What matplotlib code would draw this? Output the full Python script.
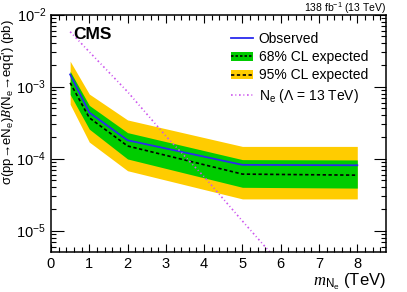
import numpy as np
import matplotlib
matplotlib.use("Agg")
import matplotlib.pyplot as plt
from matplotlib.patches import Patch
from matplotlib.lines import Line2D

plt.rcParams['font.family'] = ['Liberation Sans', 'DejaVu Sans']
plt.rcParams['mathtext.fontset'] = 'custom'
plt.rcParams['mathtext.rm'] = 'Liberation Sans'
plt.rcParams['mathtext.it'] = 'Liberation Serif:italic'
plt.rcParams['mathtext.cal'] = 'STIXGeneral:italic'

# limits vs mass
mass = [0.5, 1, 2, 5, 8]
observed = [1.48e-3, 4.37e-4, 1.80e-4, 8.2e-5, 8.1e-5]
expected = [1.13e-3, 3.7e-4, 1.5e-4, 6.1e-5, 5.9e-5]
exp68_up = [1.64e-3, 5.5e-4, 2.3e-4, 9.7e-5, 9.6e-5]
exp68_dn = [7.8e-4, 2.57e-4, 9.9e-5, 4.0e-5, 3.9e-5]
exp95_up = [2.26e-3, 7.9e-4, 3.45e-4, 1.48e-4, 1.48e-4]
exp95_dn = [5.7e-4, 1.7e-4, 6.8e-5, 2.76e-5, 2.76e-5]

# theory prediction
th_mass = [0.5, 1, 2, 3, 4, 5, 6]
th_xsec = [5.8e-3, 3.05e-3, 8.5e-4, 2.06e-4, 5.6e-5, 1.36e-5, 3.4e-6]

green = '#00cc00'
yellow = '#ffcc00'
blue = '#2a2aee'
violet = '#cc55ee'

fig = plt.figure(figsize=(4.07, 2.92), dpi=100)
ax = fig.add_axes([0.1253, 0.138, 0.8231, 0.8117])

ax.fill_between(mass, exp95_dn, exp95_up, color=yellow, lw=0)
ax.fill_between(mass, exp68_dn, exp68_up, color=green, lw=0)
ax.plot(mass, expected, color='black', lw=1.2, dashes=(2, 1.5))
ax.plot(mass, observed, color=blue, lw=1.3)
ax.plot(th_mass, th_xsec, color=violet, lw=1.2, dashes=(1.0, 1.6, 0.6, 1.6))

ax.set_yscale('log')
ax.set_xlim(0, 8.75)
ax.set_ylim(5.1e-6, 1e-2)
ax.set_xticks(range(0, 9))
ax.xaxis.set_minor_locator(matplotlib.ticker.MultipleLocator(0.2))
ax.tick_params(which='both', direction='in', top=True, right=True, labelsize=10.5, width=0.8)
ax.tick_params(which='major', axis='y', length=9)
ax.tick_params(which='major', axis='x', length=6)
ax.tick_params(which='minor', length=3.5)
ax.tick_params(axis='x', pad=4)
for s in ax.spines.values():
    s.set_linewidth(1.1)

ax.set_ylabel("σ(pp→eN$_\\mathrm{e}$)$\\mathcal{B}$(N$_\\mathrm{e}$→eq$\\mathrm{\\bar{q}}$') (pb)",
              fontsize=9.5, loc='top')
ax.yaxis.set_label_coords(-0.10, 0.98)
ax.set_xlabel(r'$m_{\mathrm{N_e}}$ (TeV)', fontsize=12, loc='right', labelpad=0)

ax.text(0.065, 0.95, 'CMS', transform=ax.transAxes, fontsize=12.5, fontweight='bold', va='top')
ax.text(1.0, 1.01, r'138 fb$^{-1}$ (13 TeV)', transform=ax.transAxes, fontsize=7.5, ha='right', va='baseline')

handles = [
    Line2D([], [], color=blue, lw=1.3),
    (Patch(color=green, lw=0), Line2D([], [], color='black', lw=1.2, dashes=(1.5, 1.2))),
    (Patch(color=yellow, lw=0), Line2D([], [], color='black', lw=1.2, dashes=(2, 1.5))),
    Line2D([], [], color=violet, lw=1.2, dashes=(1.0, 1.6, 0.6, 1.6)),
]
labels = ['Observed', '68% CL expected', '95% CL expected', r'N$_\mathrm{e}$ ($\Lambda$ = 13 TeV)']
ax.legend(handles, labels, loc='upper left', bbox_to_anchor=(0.52, 0.95), frameon=False,
          fontsize=10, handlelength=1.6, handletextpad=0.4, labelspacing=0.3, borderaxespad=0)

fig.savefig('out.png', dpi=100)
